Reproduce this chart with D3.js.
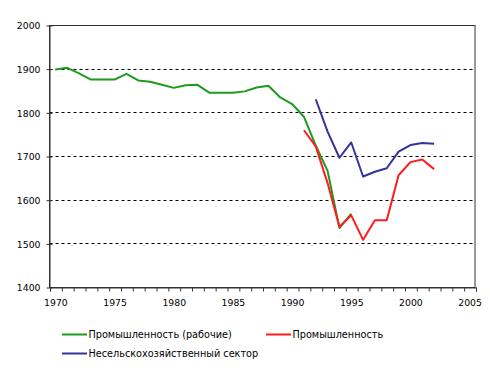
<!DOCTYPE html>
<html><head><meta charset="utf-8">
<script src="https://cdn.jsdelivr.net/npm/d3@7/dist/d3.min.js"></script>
<style>body{margin:0;background:#fff}svg{display:block}text{font-family:"DejaVu Sans",sans-serif;fill:#000}</style>
</head><body><svg id="c" width="490" height="371"></svg>
<script>
const yearsWorkers = [1970,1971,1972,1973,1974,1975,1976,1977,1978,1979,1980,1981,1982,1983,1984,1985,1986,1987,1988,1989,1990,1991,1992,1993,1994,1995];
const valuesWorkers = [1898,1902,1889,1875,1875,1875,1888,1873,1870,1863,1856,1862,1863,1845,1845,1845,1848,1857,1861,1834,1819,1790,1724,1666,1535,1568];
const yearsIndustry = [1991,1992,1993,1994,1995,1996,1997,1998,1999,2000,2001,2002];
const valuesIndustry = [1759,1722,1638,1538,1564,1508,1553,1553,1656,1686,1692,1670];
const yearsNonfarm = [1992,1993,1994,1995,1996,1997,1998,1999,2000,2001,2002];
const valuesNonfarm = [1830,1756,1696,1731,1653,1664,1672,1710,1725,1730,1728];
const yTicks = [1400,1500,1600,1700,1800,1900,2000];
const xLabels = [1970,1975,1980,1985,1990,1995,2000,2005];
const seriesNames = ["Промышленность (рабочие)","Промышленность","Несельскохозяйственный сектор"];
const seriesColors = ["#1f9a1f","#ff1c1c","#333399"];

const svg = d3.select("#c");
const L=49.5, R=475.5, T=25, B=287;
const x = d3.scaleLinear().domain([1969.5,2005.5]).range([L,R]);
const y = d3.scaleLinear().domain([1400,2000]).range([B,T]);

// gridlines
svg.append("g").selectAll("line").data(yTicks.filter(v=>v>1400&&v<2000)).join("line")
  .attr("x1",L).attr("x2",R).attr("y1",d=>Math.round(y(d))+0.5).attr("y2",d=>Math.round(y(d))+0.5)
  .attr("stroke","#000").attr("stroke-dasharray","3,3");

// border
svg.append("rect").attr("x",L).attr("y",T+0.5).attr("width",R-L-0.5).attr("height",B-T)
  .attr("fill","none").attr("stroke","#333");

// y axis
const ya = svg.append("g").attr("transform",`translate(${L},0.5)`)
  .call(d3.axisLeft(y).tickValues(yTicks).tickSizeInner(3).tickSizeOuter(0).tickPadding(6).tickFormat(d3.format("d")));
ya.select(".domain").attr("stroke","#333");
ya.selectAll(".tick line").attr("x2",3).attr("x1",-3).attr("stroke","#333");
ya.selectAll("text").style("font-size","9.3px").attr("dy","0.36em");

// x axis ticks at category boundaries
const boundaries = d3.range(1969.5,2006,1);
const xt = svg.append("g").attr("transform",`translate(0.5,${B+0.5})`)
  .call(d3.axisBottom(x).tickValues(boundaries).tickSize(4).tickFormat(""));
xt.select(".domain").attr("stroke","#333");
xt.selectAll(".tick line").attr("stroke","#333");
const xl = svg.append("g").attr("transform",`translate(0,${B})`)
  .call(d3.axisBottom(x).tickValues(xLabels).tickSize(0).tickPadding(12).tickFormat(d3.format("d")));
xl.select(".domain").remove();
xl.selectAll("text").style("font-size","9.3px");

// lines
const line = d3.line().x(d=>x(d[0])).y(d=>y(d[1]));
const series = [
  d3.zip(yearsWorkers,valuesWorkers),
  d3.zip(yearsIndustry,valuesIndustry),
  d3.zip(yearsNonfarm,valuesNonfarm)
];
svg.append("g").selectAll("path").data(series).join("path")
  .attr("d",line).attr("fill","none").attr("stroke",(d,i)=>seriesColors[i]).attr("stroke-width",2)
  .attr("stroke-linejoin","round");

// legend
const legPos = [[62,334],[266,334],[62,353]];
const lg = svg.append("g").selectAll("g").data(seriesNames).join("g")
  .attr("transform",(d,i)=>`translate(${legPos[i][0]},${legPos[i][1]})`);
lg.append("line").attr("x1",0).attr("x2",25).attr("y1",0.5).attr("y2",0.5)
  .attr("stroke",(d,i)=>seriesColors[i]).attr("stroke-width",2);
lg.append("text").attr("x",26.5).attr("y",0).attr("dy","0.36em").style("font-size","9.7px").text(d=>d);
</script></body></html>
